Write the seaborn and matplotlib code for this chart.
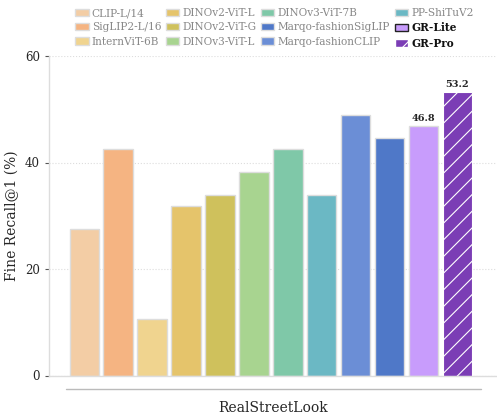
import matplotlib
matplotlib.use("Agg")
import matplotlib.pyplot as plt
import matplotlib.patches as mpatches
import pandas as pd
import seaborn as sns

sns.set_style("white")
plt.rcParams["font.family"] = ["DejaVu Serif"]
plt.rcParams["hatch.linewidth"] = 0.8

# -----------------------------
# Data
# -----------------------------
models = [
    "CLIP-L/14", "SigLIP2-L/16", "InternViT-6B", "DINOv2-ViT-L",
    "DINOv2-ViT-G", "DINOv3-ViT-L", "DINOv3-ViT-7B", "PP-ShiTuV2",
    "Marqo-fashionCLIP", "Marqo-fashionSigLIP", "GR-Lite", "GR-Pro",
]
recall = [27.6, 42.5, 10.6, 31.9, 33.9, 38.3, 42.5, 33.9, 48.9, 44.6, 46.8, 53.2]
colors = [
    "#f3cda5", "#f5b482", "#f0d48f", "#e5c46b", "#cfc15c", "#a8d490",
    "#7fc8a8", "#6bb8c4", "#6b8ed6", "#4f78c8", "#c89cfc", "#7b3db5",
]
legend_order = [
    "CLIP-L/14", "SigLIP2-L/16", "InternViT-6B", "DINOv2-ViT-L",
    "DINOv2-ViT-G", "DINOv3-ViT-L", "DINOv3-ViT-7B", "Marqo-fashionSigLIP",
    "Marqo-fashionCLIP", "PP-ShiTuV2", "GR-Lite", "GR-Pro",
]
ours = ["GR-Lite", "GR-Pro"]
dataset = "RealStreetLook"

df = pd.DataFrame({"model": models, "recall": recall})
palette = dict(zip(models, colors))

fig = plt.figure(figsize=(4.97, 4.17), dpi=100)
ax = fig.add_axes([49 / 497, 1 - 375.5 / 417, 1 - 49 / 497, (375.5 - 56) / 417])

sns.barplot(data=df, x="model", y="recall", hue="model", palette=palette,
            order=models, hue_order=models, dodge=False, legend=False,
            saturation=1, width=0.87, edgecolor="#dddddd", linewidth=1, ax=ax)

# hatch on GR-Pro
for patch, name in zip(ax.patches, models):
    if name == "GR-Pro":
        patch.set_hatch("//")
        patch.set_edgecolor("white")
        patch.set_linewidth(0.8)

# labels over our bars
for patch, name, val in zip(ax.patches, models, recall):
    if name in ours:
        ax.text(patch.get_x() + patch.get_width() / 2, val + 0.6, f"{val:.1f}",
                ha="center", va="bottom", fontsize=7, fontweight="bold")

ax.set_ylim(0, 60)
ax.set_xlim(-1.04, 12.17)
ax.set_yticks([0, 20, 40, 60])
ax.set_xticks([])
ax.set_xlabel(dataset, fontsize=10, labelpad=18)
ax.set_ylabel("Fine Recall@1 (%)", fontsize=10)
ax.tick_params(axis="y", labelsize=8.5, length=3, color="#555555", left=True)
ax.yaxis.grid(True, linestyle=":", color="#dddddd", linewidth=0.8)
ax.set_axisbelow(True)
sns.despine(ax=ax, top=True, right=True)
for side in ["left", "bottom"]:
    ax.spines[side].set_color("#dddddd")
    ax.spines[side].set_linewidth(1)

# group line under the bars
ax.plot([-0.55, 11.7], [-2.5, -2.5], color="#bbbbbb", lw=1, clip_on=False)

# legend
handles = []
for name in legend_order:
    if name == "GR-Pro":
        h = mpatches.Patch(facecolor=palette[name], edgecolor="white", hatch="//")
    elif name == "GR-Lite":
        h = mpatches.Patch(facecolor=palette[name], edgecolor="#222222", linewidth=1)
    else:
        h = mpatches.Patch(facecolor=palette[name], edgecolor="#dddddd")
    handles.append(h)

leg = ax.legend(handles, legend_order, ncol=4, loc="lower center",
                bbox_to_anchor=(0.503, 1.0), frameon=False, fontsize=7.6,
                handlelength=1.25, handleheight=0.7, handletextpad=0.3,
                columnspacing=0.45, labelspacing=0.4, borderpad=0.2)
for text in leg.get_texts():
    if text.get_text() in ours:
        text.set_fontweight("bold")
        text.set_color("#111111")
    else:
        text.set_color("#888888")

fig.savefig("out.png", dpi=100)
